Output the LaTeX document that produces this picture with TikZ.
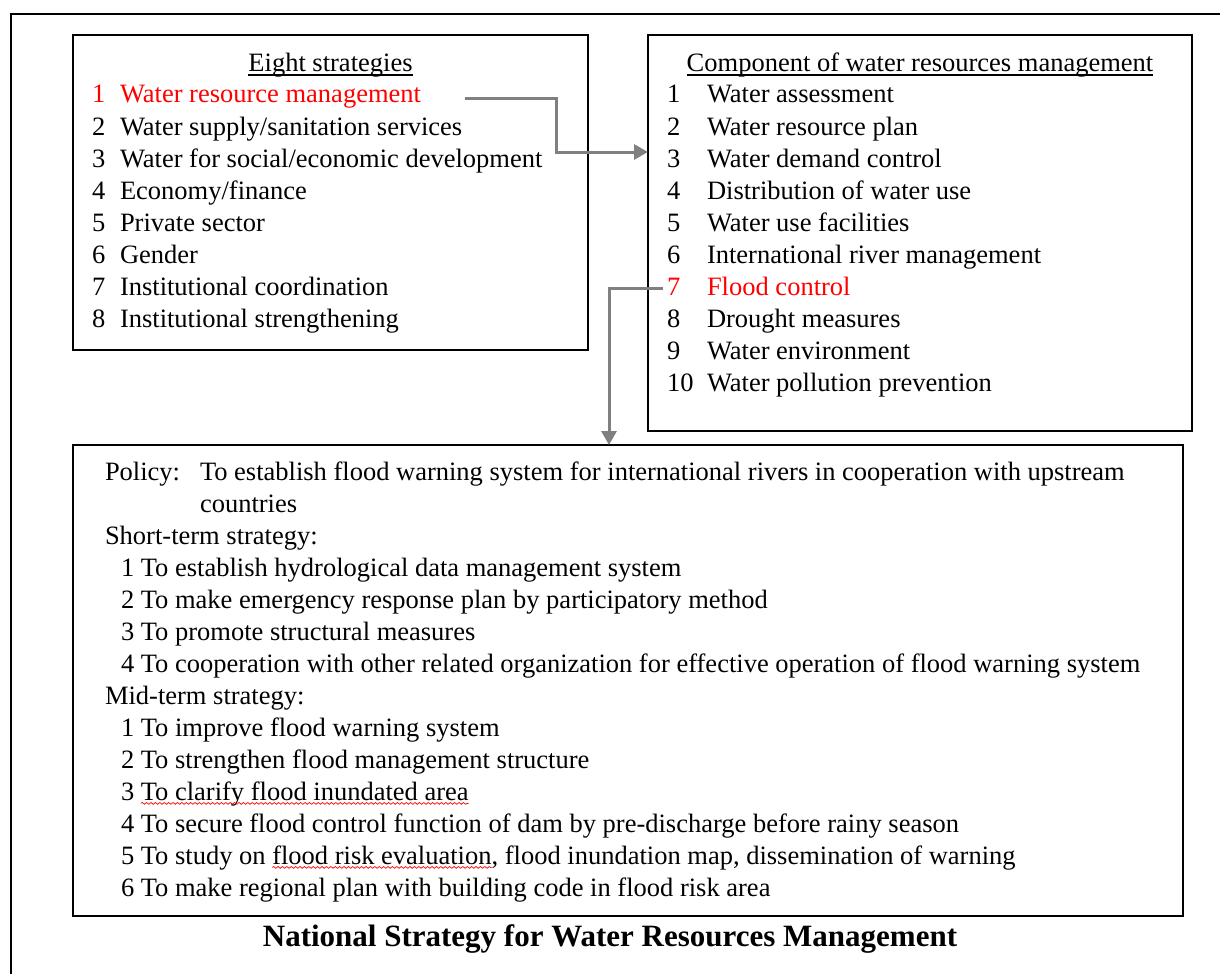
\documentclass[tikz,border=0pt]{standalone}
\usepackage{fontspec}
\setmainfont{Liberation Serif}
\usetikzlibrary{arrows.meta,decorations.pathmorphing}
\definecolor{arrowgray}{RGB}{128,128,128}
\begin{document}
\begin{tikzpicture}[x=0.5pt,y=-0.5pt,
  box/.style={draw, line width=0.6pt, inner sep=0pt, outer sep=0pt},
  txt/.style={anchor=base west, inner sep=0pt, outer sep=0pt, font=\fontsize{13.25}{16}\selectfont},
  hd/.style={anchor=base, inner sep=0pt, outer sep=0pt, font=\fontsize{13.25}{16}\selectfont},
  ttl/.style={anchor=base, inner sep=0pt, font=\fontsize{15.5}{18}\selectfont\bfseries},
  hl/.style={text=red},
  uline/.style={line width=0.7pt},
  link/.style={draw=arrowgray, line width=1.5pt, -{Triangle[length=7pt,width=7.5pt]}},
  wave/.style={red, line width=0.35pt, decorate, decoration={snake, amplitude=0.45pt, segment length=2.2pt}}]
\useasboundingbox (0,0) rectangle (1220,974);
% outer frame
\draw[line width=0.6pt] (11,974) -- (11,14) -- (1220,14);
% boxes
\node[box, minimum width=257.5pt, minimum height=157.5pt] (lbox) at (330.5,192.5) {};
\node[box, minimum width=272pt, minimum height=198pt] (rbox) at (920,233) {};
\node[box, minimum width=555pt, minimum height=235.5pt] (bbox) at (628,680.5) {};
% left box
\node[hd] (lhead) at (330.5,72) {Eight strategies};
\draw[uline] ([yshift=-1.6pt]lhead.base west) -- ([yshift=-1.6pt]lhead.base east);
\node[txt,hl] (ln1) at (92,103) {1};
\node[txt,hl] (lt1) at (120,103) {Water resource management};
\foreach \i/\t in {2/{Water supply/sanitation services},3/{Water for social/economic development},4/{Economy/finance},5/{Private sector},6/{Gender},7/{Institutional coordination},8/{Institutional strengthening}}{
  \node[txt] (ln\i) at (92,71+32*\i) {\i};
  \node[txt] (lt\i) at (120,71+32*\i) {\t};
}
% right box
\node[hd] (rhead) at (920,72) {Component of water resources management};
\draw[uline] ([yshift=-1.6pt]rhead.base west) -- ([yshift=-1.6pt]rhead.base east);
\foreach \i/\t in {1/{Water assessment},2/{Water resource plan},3/{Water demand control},4/{Distribution of water use},5/{Water use facilities},6/{International river management},8/{Drought measures},9/{Water environment},10/{Water pollution prevention}}{
  \node[txt] (rn\i) at (667,71+32*\i) {\i};
  \node[txt] (rt\i) at (707,71+32*\i) {\t};
}
\node[txt,hl] (rn7) at (667,295) {7};
\node[txt,hl] (rt7) at (707,295) {Flood control};
% bottom box
\node[txt] (pol) at (105,480) {Policy:};
\node[txt] (polt) at (200,480) {To establish flood warning system for international rivers in cooperation with upstream};
\node[txt] (polt2) at (200,512) {countries};
\node[txt] (sh) at (105,544) {Short-term strategy:};
\node[txt] (s1) at (121,576) {1 To establish hydrological data management system};
\node[txt] (s2) at (121,608) {2 To make emergency response plan by participatory method};
\node[txt] (s3) at (121,640) {3 To promote structural measures};
\node[txt] (s4) at (121,672) {4 To cooperation with other related organization for effective operation of flood warning system};
\node[txt] (mh) at (105,704) {Mid-term strategy:};
\node[txt] (m1) at (121,736) {1 To improve flood warning system};
\node[txt] (m2) at (121,768) {2 To strengthen flood management structure};
\node[txt] (m3a) at (121,800) {3};
\node[txt] (m3b) at ([xshift=3.31pt]m3a.base east) {To clarify flood inundated area};
\draw[wave] ([yshift=-1.7pt]m3b.base west) -- ([yshift=-1.7pt]m3b.base east);
\node[txt] (m4) at (121,832) {4 To secure flood control function of dam by pre-discharge before rainy season};
\node[txt] (m5a) at (121,864) {5 To study on};
\node[txt] (m5b) at ([xshift=3.31pt]m5a.base east) {flood risk evaluation};
\node[txt] (m5c) at (m5b.base east) {, flood inundation map, dissemination of warning};
\draw[wave] ([yshift=-1.7pt]m5b.base west) -- ([yshift=-1.7pt]m5b.base east);
\node[txt] (m6) at (121,896) {6 To make regional plan with building code in flood risk area};
% title
\node[ttl] (title) at (610,946) {National Strategy for Water Resources Management};
% connectors
\coordinate (a1) at (465,99);
\coordinate (k1) at (556,99);
\coordinate (k1b) at (556,152);
\draw[link] (a1) -- (k1) -- (k1b) -- (k1b -| rbox.west);
\coordinate (a2) at (663,288);
\coordinate (k2) at (609,288);
\draw[link] (a2) -- (k2) -- (k2 |- bbox.north);
\end{tikzpicture}
\end{document}
